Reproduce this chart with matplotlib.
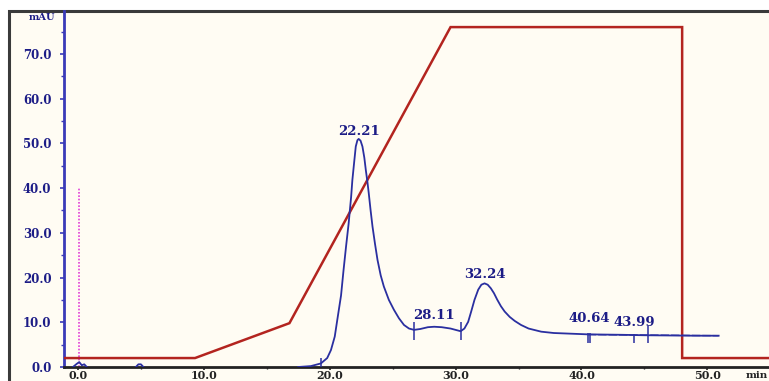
import matplotlib
matplotlib.use("Agg")
import matplotlib.pyplot as plt
from matplotlib.patches import Rectangle
from matplotlib.ticker import MultipleLocator

# ---- data ----
# detector trace (mAU vs min)
trace_t = [17.5, 18.5, 19.3, 19.8, 20.1, 20.4, 20.6, 20.9, 21.1, 21.3, 21.5, 21.7, 21.8,
           21.95, 22.07, 22.2, 22.3, 22.45, 22.6, 22.75, 22.87, 23.0, 23.1, 23.25, 23.4,
           23.6, 23.8, 24.05, 24.3, 24.7, 25.1, 25.5, 25.9, 26.3, 26.7, 27.2, 27.8, 28.3,
           28.9, 29.6, 30.0, 30.4, 30.7, 31.0, 31.25, 31.5, 31.8, 32.05, 32.3, 32.55, 32.8,
           33.05, 33.3, 33.6, 33.9, 34.3, 34.7, 35.2, 35.8, 36.8, 37.8, 38.7, 39.6, 40.5,
           41.8, 43.2, 45.0, 47.0, 49.0, 50.9]
trace_v = [0.0, 0.2, 0.8, 2.0, 3.8, 6.8, 10.5, 16.0, 21.7, 27.0, 32.0, 38.0, 41.8,
           46.0, 49.3, 50.7, 51.0, 50.6, 49.3, 46.8, 44.0, 41.3, 38.9, 35.0, 31.4,
           27.5, 23.9, 20.5, 18.0, 15.0, 12.8, 10.9, 9.4, 8.6, 8.3, 8.5, 8.9, 9.0,
           8.9, 8.6, 8.3, 8.0, 8.6, 10.1, 12.5, 15.0, 17.3, 18.4, 18.7, 18.4, 17.6,
           16.5, 15.1, 13.6, 12.4, 11.2, 10.3, 9.4, 8.6, 7.9, 7.6, 7.5, 7.4, 7.3,
           7.25, 7.2, 7.1, 7.05, 7.0, 7.0]

# small disturbances at the start of the run
bump1_t = [-0.4, -0.1, 0.1, 0.3, 0.5, 0.7]
bump1_v = [0.0, 0.7, 1.1, 0.4, 0.6, 0.0]
bump2_t = [4.6, 4.8, 5.0, 5.2]
bump2_v = [0.0, 0.6, 0.6, 0.0]

# gradient programme (same scale)
grad_t = [-1.2, 9.3, 16.8, 29.6, 48.0, 48.0, 56.0]
grad_v = [2.0, 2.0, 9.8, 76.0, 76.0, 2.0, 2.0]

# peak labels
peak_labels = ["22.21", "28.11", "32.24", "40.64", "43.99"]
peak_label_t = [22.3, 28.3, 32.3, 40.6, 44.2]
peak_label_v = [52.6, 11.6, 20.6, 10.9, 9.9]

# integration markers: (time, low, high)
mark_t = [19.3, 26.7, 30.4, 40.5, 40.7, 44.2, 45.3]
mark_lo = [0.0, 6.0, 6.0, 5.4, 5.4, 5.4, 5.4]
mark_hi = [2.0, 10.0, 10.0, 7.6, 7.6, 7.4, 9.1]

# baseline drawn after last peaks
base_t = [40.5, 50.9]
base_v = [7.25, 7.0]

# injection marker
inj_t = 0.08
inj_top = 40.0

xticks = [0, 10, 20, 30, 40, 50]
yticks = [0, 10, 20, 30, 40, 50, 60, 70]

# ---- figure ----
W, H = 769, 381
fig = plt.figure(figsize=(W / 100, H / 100), dpi=100, facecolor="white")

# outer frame with ivory background
frame = Rectangle((9 / W, -0.05), 1.2, 1 - 11 / H + 0.05,
                  transform=fig.transFigure, facecolor="#fffcf3",
                  edgecolor="#3a3a3a", lw=2.2, zorder=-10)
fig.patches.append(frame)

ax = fig.add_axes([64 / W, 14 / H, 1 - 64 / W, (367 - 11) / H])
ax.set_facecolor("none")
ax.set_zorder(1)
ax.set_xlim(-1.11, 54.9)
ax.set_ylim(0, 79.6)

navy = "#1c1c86"
blue = "#2a2fa0"
red = "#b3241f"

ax.plot(grad_t, grad_v, color=red, lw=1.8, zorder=3, solid_joinstyle="miter")
ax.plot(trace_t, trace_v, color=blue, lw=1.3, zorder=4)
ax.plot(bump1_t, bump1_v, color=blue, lw=1.3, zorder=4)
ax.plot(bump2_t, bump2_v, color=blue, lw=1.3, zorder=4)
ax.plot(base_t, base_v, color=blue, lw=1.0, zorder=4, dashes=(6, 1.5))
ax.vlines(mark_t, mark_lo, mark_hi, color=blue, lw=1.1, zorder=4)
ax.vlines([inj_t], 0, inj_top, color="#e040d8", lw=1.2, linestyles=(0, (1, 1)), zorder=2)

for lab, t, v in zip(peak_labels, peak_label_t, peak_label_v):
    ax.text(t, v, lab, color=navy, fontsize=9.5, fontweight="bold",
            family="DejaVu Serif", ha="center", va="center", zorder=5)

# spines
for s in ("top", "right"):
    ax.spines[s].set_visible(False)
ax.spines["left"].set_color("#3a3ab8")
ax.spines["left"].set_linewidth(2.0)
ax.spines["bottom"].set_color("#222222")
ax.spines["bottom"].set_linewidth(2.0)

ax.set_xticks(xticks)
ax.set_xticklabels([f"{v:.1f}" for v in xticks])
ax.set_yticks(yticks)
ax.set_yticklabels([f"{v:.1f}" for v in yticks])
ax.yaxis.set_minor_locator(MultipleLocator(5))
ax.xaxis.set_minor_locator(MultipleLocator(5))
ax.tick_params(axis="y", which="major", direction="out", length=3, width=1.2,
               color="#3a3ab8", labelcolor=navy, pad=6, labelsize=8.5)
ax.tick_params(axis="y", which="minor", direction="out", length=2, width=1,
               color="#3a3ab8")
ax.tick_params(axis="x", which="major", direction="out", length=2, width=1.2,
               color="#222222", labelcolor="#222222", pad=0, labelsize=8)
ax.tick_params(axis="x", which="minor", direction="out", length=1.5, width=1,
               color="#222222")
for lab in ax.get_xticklabels() + ax.get_yticklabels():
    lab.set_fontfamily("DejaVu Serif")
    lab.set_fontweight("bold")

fig.text(42 / W, 1 - 18 / H, "mAU", color=navy, fontsize=7, fontweight="bold",
         family="DejaVu Serif", ha="center", va="center")
fig.text(757 / W, 1 - 375 / H, "min", color="#222222", fontsize=7.5, fontweight="bold",
         family="DejaVu Serif", ha="center", va="center")

fig.savefig("out.png", dpi=100, facecolor="white")
